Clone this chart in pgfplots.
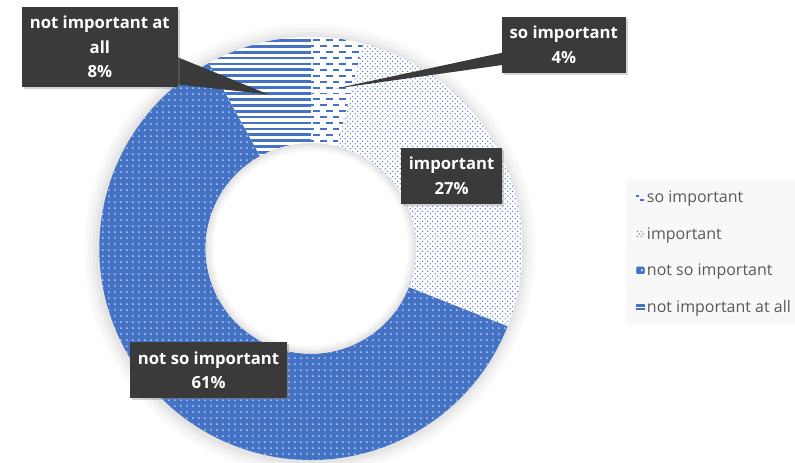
\documentclass[border=0pt]{standalone}
\usepackage{pgfplots}
\pgfplotsset{compat=1.18}
\usepackage{pgfplotstable}
\usepackage{fontspec}
\setmainfont{Open Sans}
\usetikzlibrary{patterns,shadows,calc}

\definecolor{cblue}{HTML}{4472C4}
\definecolor{lblbg}{HTML}{3A3A3A}
\definecolor{legtxt}{HTML}{595959}
\definecolor{legbg}{HTML}{F8F8F8}

% patterns
\pgfdeclarepatternformonly{myhlines}{\pgfqpoint{-1bp}{-1bp}}{\pgfqpoint{7bp}{7bp}}{\pgfqpoint{6bp}{6bp}}{%
  \pgfsetlinewidth{2.8bp}\pgfpathmoveto{\pgfqpoint{-1bp}{3bp}}\pgfpathlineto{\pgfqpoint{7bp}{3bp}}\pgfusepath{stroke}}
\pgfdeclarepatternformonly{mydashes}{\pgfqpoint{-1bp}{0bp}}{\pgfqpoint{14bp}{12bp}}{\pgfqpoint{13bp}{12bp}}{%
  \pgfsetlinewidth{1.9bp}%
  \pgfpathmoveto{\pgfqpoint{0bp}{3bp}}\pgfpathlineto{\pgfqpoint{7bp}{3bp}}%
  \pgfpathmoveto{\pgfqpoint{6.5bp}{9bp}}\pgfpathlineto{\pgfqpoint{13.5bp}{9bp}}%
  \pgfusepath{stroke}}
\pgfdeclarepatternformonly{mydots}{\pgfqpoint{0bp}{0bp}}{\pgfqpoint{5bp}{5bp}}{\pgfqpoint{5bp}{5bp}}{%
  \pgfpathcircle{\pgfqpoint{1.25bp}{1.25bp}}{0.75bp}%
  \pgfpathcircle{\pgfqpoint{3.75bp}{3.75bp}}{0.75bp}\pgfusepath{fill}}
\pgfdeclarepatternformonly{mywdots}{\pgfqpoint{0bp}{0bp}}{\pgfqpoint{6.5bp}{6.5bp}}{\pgfqpoint{6.5bp}{6.5bp}}{%
  \pgfpathcircle{\pgfqpoint{3.25bp}{3.25bp}}{0.85bp}\pgfusepath{fill}}

\pgfplotstableread{
idx value
0 4
1 27
2 61
3 8
}\slices

\pgfplotstablegetelem{0}{value}\of\slices\let\vA\pgfplotsretval
\pgfplotstablegetelem{1}{value}\of\slices\let\vB\pgfplotsretval
\pgfplotstablegetelem{2}{value}\of\slices\let\vC\pgfplotsretval
\pgfplotstablegetelem{3}{value}\of\slices\let\vD\pgfplotsretval

\newcommand\donutseg[3]{%
  \path[#3] ($(axis cs:303,217.5)+(#1:215bp)$) arc[start angle=#1,end angle=#2,radius=215bp]
    -- ($(axis cs:303,217.5)+(#2:107bp)$) arc[start angle=#2,end angle=#1,radius=107bp] -- cycle;}

\tikzset{lbl/.style={fill=lblbg, text=white, font=\fontsize{17}{25}\selectfont\bfseries,
  align=center, inner xsep=8bp, inner ysep=9.5bp,
  drop shadow={shadow xshift=2bp, shadow yshift=-2bp, opacity=0.35}}}

\begin{document}
\pgfmathsetmacro\aA{90}
\pgfmathsetmacro\aB{\aA-3.6*\vA}
\pgfmathsetmacro\aC{\aB-3.6*\vB}
\pgfmathsetmacro\aD{\aC-3.6*\vC}
\pgfmathsetmacro\aE{\aD-3.6*\vD}
\begin{tikzpicture}
\path[use as bounding box] (0bp,0bp) rectangle (795bp,470bp);
\clip (0bp,0bp) rectangle (795bp,470bp);
\begin{axis}[name=ax, at={(0bp,0bp)}, anchor=south west,
  width=795bp, height=470bp, scale only axis,
  xmin=0, xmax=795, ymin=0, ymax=470, hide axis, clip=true,
  legend style={at={(0.7836,0.6106)}, anchor=north west, draw=none, fill=legbg,
    inner xsep=10bp, inner ysep=9bp, row sep=19.5bp,
    font=\fontsize{16.3}{18}\selectfont, text=legtxt,
    /tikz/every even column/.append style={column sep=6bp}},
  legend cell align=left]

\addlegendimage{legend image code/.code={
  \draw[cblue, line width=1.4bp] (0bp,1.8bp) -- (2.6bp,1.8bp);
  \draw[cblue, line width=1.4bp] (3.6bp,-2.2bp) -- (8bp,-2.2bp);}}
\addlegendentry{so important}
\addlegendimage{legend image code/.code={
  \fill[cblue!70] (1bp,2.5bp) circle (0.6bp) (5bp,2.5bp) circle (0.6bp)
    (3bp,0bp) circle (0.6bp) (7bp,0bp) circle (0.6bp)
    (1bp,-2.5bp) circle (0.6bp) (5bp,-2.5bp) circle (0.6bp);}}
\addlegendentry{important}
\addlegendimage{legend image code/.code={
  \fill[cblue, rounded corners=1bp] (0bp,-3.5bp) rectangle (8bp,3.5bp);
  \fill[white] (5.5bp,0bp) circle (0.8bp);}}
\addlegendentry{not so important}
\addlegendimage{legend image code/.code={
  \fill[cblue] (0bp,1bp) rectangle (8bp,2.8bp);
  \fill[cblue] (0bp,-2.8bp) rectangle (8bp,-1bp);}}
\addlegendentry{not important at all}

% soft outer shadow
\fill[black, opacity=0.025] (axis cs:302,216.5) circle[radius=229bp];
\fill[black, opacity=0.025] (axis cs:302,216.5) circle[radius=225bp];
\fill[black, opacity=0.03] (axis cs:302,216.5) circle[radius=221bp];
\fill[black, opacity=0.03] (axis cs:302,216.5) circle[radius=218bp];

% slices
\donutseg{\aA}{\aB}{fill=white}
\donutseg{\aA}{\aB}{pattern=mydashes, pattern color=cblue}
\donutseg{\aB}{\aC}{fill=white}
\donutseg{\aB}{\aC}{pattern=mydots, pattern color=cblue}
\donutseg{\aC}{\aD}{fill=cblue}
\donutseg{\aC}{\aD}{pattern=mywdots, pattern color=white}
\donutseg{\aD}{\aE}{fill=white}
\donutseg{\aD}{\aE}{pattern=myhlines, pattern color=cblue}

% hole inner shadow
\fill[white] (axis cs:303,217.5) circle[radius=107bp];
\draw[black, opacity=0.03, line width=8bp] (axis cs:303,217.5) circle[radius=103bp];
\draw[black, opacity=0.035, line width=5bp] (axis cs:303,217.5) circle[radius=104.5bp];
\draw[black, opacity=0.04, line width=2.5bp] (axis cs:303,217.5) circle[radius=105.75bp];

% callout pointers
\fill[lblbg] (axis cs:160,415) -- (axis cs:260,374) -- (axis cs:160,385) -- cycle;
\fill[lblbg] (axis cs:505,418) -- (axis cs:328,380) -- (axis cs:505,405) -- cycle;

% labels
\node[lbl] at (axis cs:88.5,422) {not important at\\all\\8\%};
\node[lbl] at (axis cs:560,424.5) {so important\\4\%};
\node[lbl] at (axis cs:446,291.5) {important\\27\%};
\node[lbl] at (axis cs:199,93.5) {not so important\\61\%};
\end{axis}
\end{tikzpicture}
\end{document}
